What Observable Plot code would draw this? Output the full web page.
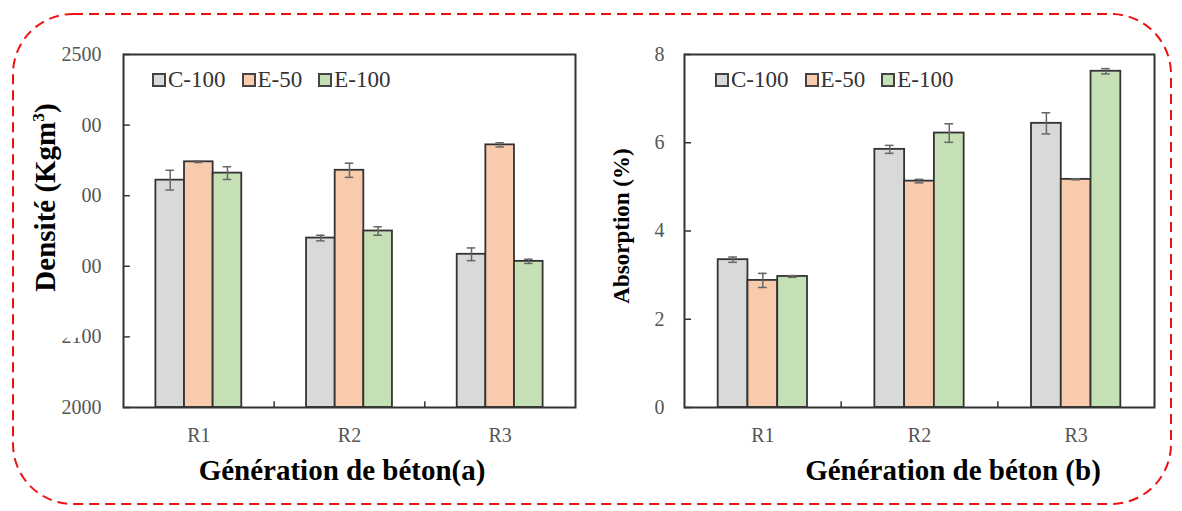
<!DOCTYPE html>
<html>
<head>
<meta charset="utf-8">
<script src="https://cdn.jsdelivr.net/npm/d3@7"></script>
<script src="https://cdn.jsdelivr.net/npm/@observablehq/plot@0.6"></script>
<style>
  html, body { margin: 0; padding: 0; background: #fff; }
  #wrap { position: relative; width: 1182px; height: 511px; overflow: hidden; font-family: "Liberation Serif", "DejaVu Serif", serif; }
  .abs { position: absolute; }
  .title { position: absolute; font-weight: bold; font-size: 29px; color: #000; white-space: nowrap; transform: translate(-50%, -50%); }
  .ylab { position: absolute; font-weight: bold; color: #000; white-space: nowrap; transform: translate(-50%, -50%) rotate(-90deg); line-height: 33px; }
  .legend { position: absolute; display: flex; align-items: center; font-size: 23px; color: #333; white-space: nowrap; }
  .legend .sw { display: inline-block; width: 10px; height: 10px; border: 2px solid #444; margin-right: 2px; }
  .legend .item { display: inline-flex; align-items: center; margin-right: 16px; }
</style>
</head>
<body>
<div id="wrap">
  <div id="chartA" class="abs" style="left:0;top:0"></div>
  <div id="chartB" class="abs" style="left:600px;top:0"></div>
</div>
<script>
// ---- data ----
const groups = ["R1", "R2", "R3"];
const series = ["C-100", "E-50", "E-100"];
const seriesColors = ["#d9d9d9", "#f8cbad", "#c5e0b4"];

// Densité (kg/m3), per series across R1..R3
const densC100 = [2322, 2240, 2217];
const densE50  = [2348, 2336, 2372];
const densE100 = [2332, 2250, 2207];
const densErrC100 = [14, 4, 9];
const densErrE50  = [1, 10, 3];
const densErrE100 = [9, 6, 3];

// Absorption (%)
const absC100 = [3.35, 5.85, 6.44];
const absE50  = [2.88, 5.13, 5.17];
const absE100 = [2.97, 6.22, 7.62];
const absErrC100 = [0.06, 0.09, 0.24];
const absErrE50  = [0.16, 0.04, 0.01];
const absErrE100 = [0.02, 0.21, 0.06];

const densTicks = [2000, 2100, 2200, 2300, 2400, 2500];
const absTicks = [0, 2, 4, 6, 8];

function table(vals, errs) {
  const rows = [];
  groups.forEach((g, gi) => {
    series.forEach((s, si) => {
      rows.push({g, gi, s, si, v: vals[si][gi], e: errs[si][gi]});
    });
  });
  return rows;
}

const bw = 0.19;
const cx = d => d.gi + 0.5 + (d.si - 1) * bw;

function chart({data, yDomain, yTicks, width, marginLeft, marginRight, tickPad}) {
  const base = yDomain[0];
  const span = yDomain[1] - yDomain[0];
  return Plot.plot({
    width, height: 511,
    marginLeft, marginRight, marginTop: 54, marginBottom: 104,
    style: {fontFamily: "Liberation Serif, serif", fontSize: "20px", color: "#555", background: "transparent", overflow: "visible"},
    x: {domain: [0, 3], ticks: [0.5, 1.5, 2.5], tickFormat: t => groups[Math.floor(t)], tickSize: 0, tickPadding: 20, label: null},
    y: {domain: yDomain, ticks: yTicks, tickFormat: d3.format("d"), tickSize: 0, tickPadding: tickPad, label: null},
    color: {domain: series, range: seriesColors},
    marks: [
      Plot.rectY(data, {x1: d => cx(d) - bw / 2, x2: d => cx(d) + bw / 2, y1: base, y2: "v", fill: "s", stroke: "#333", strokeWidth: 1.8}),
      Plot.ruleX(data, {x: cx, y1: d => d.v - d.e, y2: d => d.v + d.e, stroke: "#666", strokeWidth: 1.5}),
      Plot.ruleY(data, {y: d => d.v - d.e, x1: d => cx(d) - 0.028, x2: d => cx(d) + 0.028, stroke: "#666", strokeWidth: 1.5}),
      Plot.ruleY(data, {y: d => d.v + d.e, x1: d => cx(d) - 0.028, x2: d => cx(d) + 0.028, stroke: "#666", strokeWidth: 1.5}),
      Plot.ruleY(yTicks, {y: d => d, x1: 0, x2: 0.045, stroke: "#333", strokeWidth: 1.5}),
      Plot.ruleX([1, 2], {x: d => d, y1: base, y2: base + span * 0.016, stroke: "#333", strokeWidth: 1.5}),
      Plot.frame({stroke: "#333", strokeWidth: 2})
    ]
  });
}

const wrap = document.getElementById("wrap");

document.getElementById("chartA").appendChild(chart({
  data: table([densC100, densE50, densE100], [densErrC100, densErrE50, densErrE100]),
  yDomain: [2000, 2500], yTicks: densTicks, width: 600, marginLeft: 123, marginRight: 25, tickPad: 22
}));
document.getElementById("chartB").appendChild(chart({
  data: table([absC100, absE50, absE100], [absErrC100, absErrE50, absErrE100]),
  yDomain: [0, 8], yTicks: absTicks, width: 582, marginLeft: 84, marginRight: 28, tickPad: 20
}));

// dashed rounded border
const ns = "http://www.w3.org/2000/svg";
const bsvg = document.createElementNS(ns, "svg");
bsvg.setAttribute("width", 1182); bsvg.setAttribute("height", 511);
bsvg.setAttribute("style", "position:absolute;left:0;top:0;pointer-events:none");
const r = document.createElementNS(ns, "rect");
r.setAttribute("x", 13); r.setAttribute("y", 14); r.setAttribute("width", 1158); r.setAttribute("height", 490);
r.setAttribute("rx", 60); r.setAttribute("ry", 60);
r.setAttribute("fill", "none"); r.setAttribute("stroke", "#ee1111"); r.setAttribute("stroke-width", 2);
r.setAttribute("stroke-dasharray", "10 6");
bsvg.appendChild(r);
wrap.appendChild(bsvg);

// legends
function legend(left, top) {
  const d = document.createElement("div");
  d.className = "legend";
  d.style.left = left + "px"; d.style.top = top + "px";
  series.forEach((s, i) => {
    const it = document.createElement("span"); it.className = "item";
    const sw = document.createElement("span"); sw.className = "sw"; sw.style.background = seriesColors[i];
    const tx = document.createElement("span"); tx.textContent = s;
    it.appendChild(sw); it.appendChild(tx); d.appendChild(it);
  });
  wrap.appendChild(d);
}
legend(152, 67);
legend(715, 67);

// y labels (the left one sits on a white box that masks part of the tick labels, as in the source)
const yl1 = document.createElement("div");
yl1.className = "ylab";
yl1.style.left = "55px"; yl1.style.top = "200px"; yl1.style.fontSize = "29px";
yl1.style.background = "#fff"; yl1.style.padding = "0px 41px 20px 46px";
yl1.innerHTML = "Densité (Kgm<sup style='font-size:0.6em;line-height:0'>3</sup>)";
wrap.appendChild(yl1);

const yl2 = document.createElement("div");
yl2.className = "ylab";
yl2.style.left = "621px"; yl2.style.top = "226px"; yl2.style.fontSize = "23px";
yl2.textContent = "Absorption (%)";
wrap.appendChild(yl2);

// titles
function title(text, x, y) {
  const t = document.createElement("div");
  t.className = "title"; t.textContent = text;
  t.style.left = x + "px"; t.style.top = y + "px";
  wrap.appendChild(t);
}
title("Génération de béton(a)", 342, 470);
title("Génération de béton (b)", 953, 470);
</script>
</body>
</html>
